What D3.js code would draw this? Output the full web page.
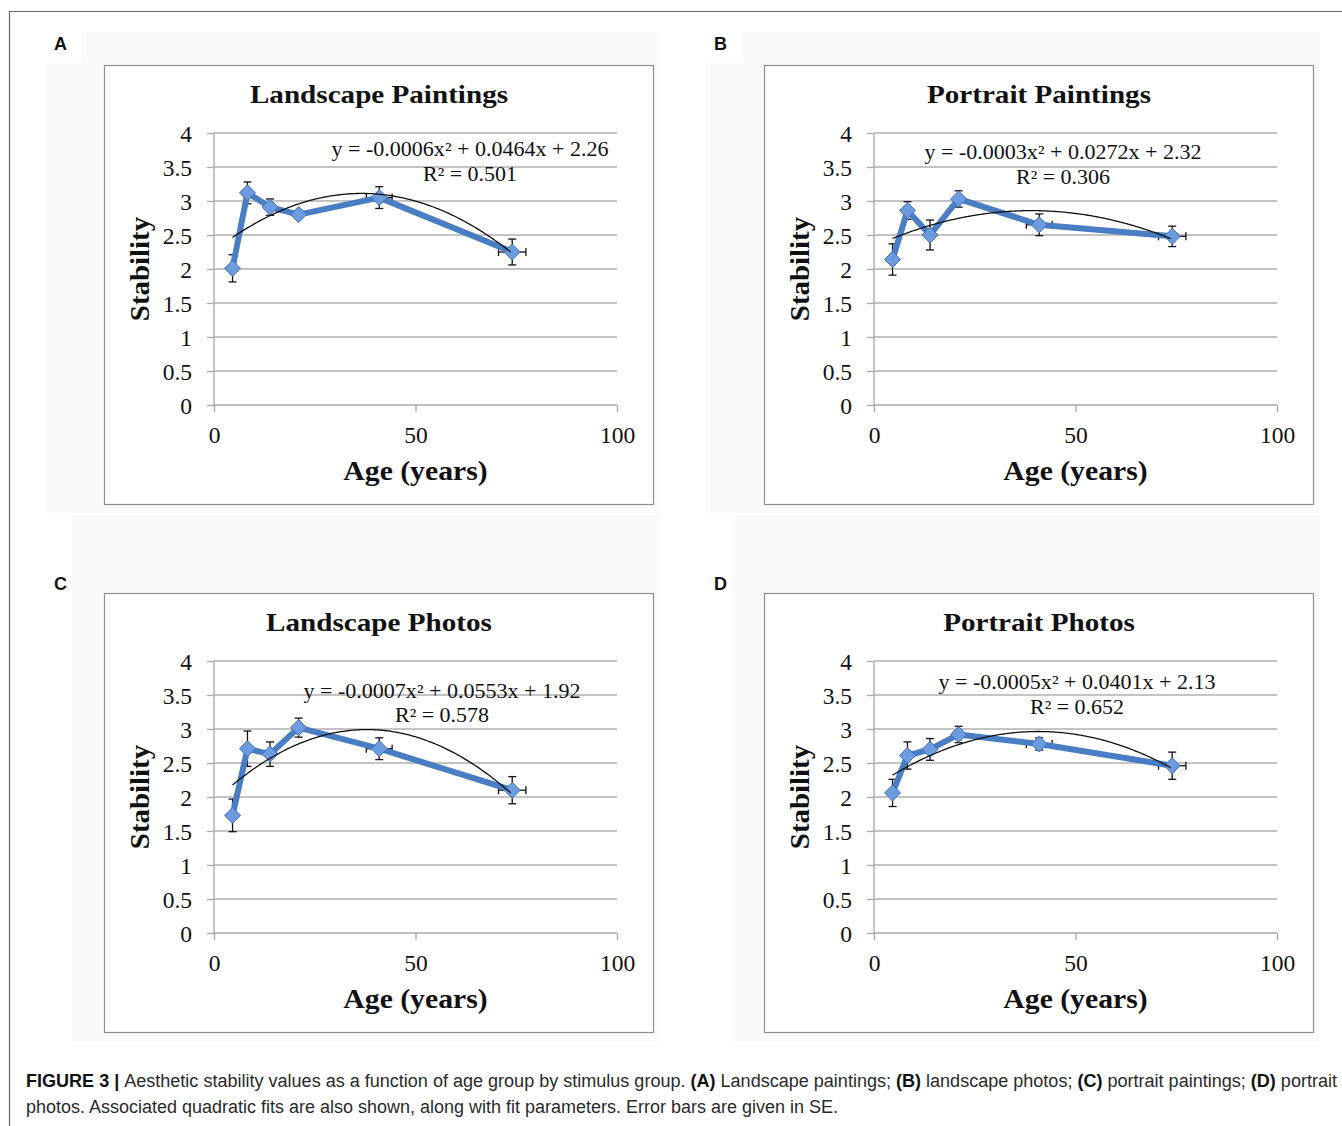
<!DOCTYPE html>
<html>
<head>
<meta charset="utf-8">
<script src="https://cdn.jsdelivr.net/npm/d3@7"></script>
<style>
  html, body { margin: 0; padding: 0; background: #ffffff; }
  svg { display: block; }
</style>
</head>
<body>
<svg id="chart" width="1342" height="1126"></svg>
<script>
// ---------------- DATA ----------------
const ageGroups = [4.6, 8.3, 13.9, 21, 41, 74];
const ageSE = [0, 0, 0, 0, 3.2, 3.4];
const xTicks = [0, 50, 100];
const yTicks = [0, 0.5, 1, 1.5, 2, 2.5, 3, 3.5, 4];
const yTickLabels = ["0", "0.5", "1", "1.5", "2", "2.5", "3", "3.5", "4"];
const xTickLabels = ["0", "50", "100"];

const panelLetters = ["A", "B", "C", "D"];
const panelTitles = ["Landscape Paintings", "Portrait Paintings", "Landscape Photos", "Portrait Photos"];

const landscapePaintings   = [2.01, 3.12, 2.91, 2.80, 3.05, 2.25];
const landscapePaintingsSE = [0.20, 0.16, 0.12, 0.05, 0.16, 0.19];
const portraitPaintings    = [2.14, 2.86, 2.50, 3.03, 2.65, 2.48];
const portraitPaintingsSE  = [0.23, 0.13, 0.22, 0.12, 0.16, 0.15];
const landscapePhotos      = [1.73, 2.71, 2.63, 3.02, 2.71, 2.10];
const landscapePhotosSE    = [0.24, 0.26, 0.18, 0.14, 0.16, 0.20];
const portraitPhotos       = [2.06, 2.61, 2.70, 2.92, 2.78, 2.46];
const portraitPhotosSE     = [0.20, 0.20, 0.16, 0.12, 0.09, 0.20];

const fitEquations = [
  "y = -0.0006x² + 0.0464x + 2.26",
  "y = -0.0003x² + 0.0272x + 2.32",
  "y = -0.0007x² + 0.0553x + 1.92",
  "y = -0.0005x² + 0.0401x + 2.13"
];
const fitR2 = ["R² = 0.501", "R² = 0.306", "R² = 0.578", "R² = 0.652"];

const yAxisTitle = "Stability";
const xAxisTitle = "Age (years)";

const captionLine1 = [
  {t: "FIGURE 3 | ", b: true},
  {t: "Aesthetic stability values as a function of age group by stimulus group. ", b: false},
  {t: "(A)", b: true}, {t: " Landscape paintings; ", b: false},
  {t: "(B)", b: true}, {t: " landscape photos; ", b: false},
  {t: "(C)", b: true}, {t: " portrait paintings; ", b: false},
  {t: "(D)", b: true}, {t: " portrait", b: false}
];
const captionLine2 = [
  {t: "photos. Associated quadratic fits are also shown, along with fit parameters. Error bars are given in SE.", b: false}
];

const seriesValues = [landscapePaintings, portraitPaintings, landscapePhotos, portraitPhotos];
const seriesSE = [landscapePaintingsSE, portraitPaintingsSE, landscapePhotosSE, portraitPhotosSE];

// ---------------- LAYOUT ----------------
const panels = [
  {ox: 0,   oy: 0},
  {ox: 660, oy: 0},
  {ox: 0,   oy: 528},
  {ox: 660, oy: 528}
];
const eqPos = [
  {x: 470, y1: 156, y2: 181},
  {x: 1063, y1: 159, y2: 184},
  {x: 442, y1: 698, y2: 722},
  {x: 1077, y1: 688.5, y2: 714}
];

const svg = d3.select("#chart");
const serif = "'Liberation Serif', 'Times New Roman', serif";
const sans = "'Liberation Sans Narrow', 'Arial Narrow', 'Liberation Sans', Arial, sans-serif";

// outer frame
svg.append("line").attr("x1", 9).attr("y1", 11.5).attr("x2", 1342).attr("y2", 11.5)
  .attr("stroke", "#666").attr("stroke-width", 1.2);
svg.append("line").attr("x1", 9.5).attr("y1", 11).attr("x2", 9.5).attr("y2", 1126)
  .attr("stroke", "#666").attr("stroke-width", 1.2);

function stretch(sel, k) {
  const w = sel.node().getComputedTextLength();
  sel.attr("textLength", w * k).attr("lengthAdjust", "spacingAndGlyphs");
}

// quadratic least squares
function quadFit(xs, ys) {
  let S = [0,0,0,0,0], T = [0,0,0];
  xs.forEach((x, i) => {
    const y = ys[i];
    for (let k = 0; k < 5; k++) S[k] += Math.pow(x, k);
    for (let k = 0; k < 3; k++) T[k] += y * Math.pow(x, k);
  });
  const M = [[S[0],S[1],S[2],T[0]],[S[1],S[2],S[3],T[1]],[S[2],S[3],S[4],T[2]]];
  for (let i = 0; i < 3; i++) {
    let p = i;
    for (let r = i+1; r < 3; r++) if (Math.abs(M[r][i]) > Math.abs(M[p][i])) p = r;
    [M[i], M[p]] = [M[p], M[i]];
    for (let r = 0; r < 3; r++) {
      if (r === i) continue;
      const f = M[r][i] / M[i][i];
      for (let c = i; c < 4; c++) M[r][c] -= f * M[i][c];
    }
  }
  const c0 = M[0][3]/M[0][0], c1 = M[1][3]/M[1][1], c2 = M[2][3]/M[2][2];
  return x => c0 + c1*x + c2*x*x;
}

panels.forEach((p, pi) => {
  const g = svg.append("g").attr("transform", `translate(${p.ox},${p.oy})`);
  const vals = seriesValues[pi], se = seriesSE[pi];

  // light grey panel background
  if (pi < 2) {
    g.append("rect").attr("x", 82).attr("y", 32).attr("width", 578).attr("height", 481).attr("fill", "#fafafa");
    g.append("rect").attr("x", 46).attr("y", 63).attr("width", 614).attr("height", 450).attr("fill", "#fafafa");
  } else {
    g.append("rect").attr("x", 72).attr("y", -13).attr("width", 588).attr("height", 527).attr("fill", "#fafafa");
  }

  // panel letter
  g.append("text").attr("x", 54).attr("y", pi < 2 ? 50 : 62)
    .attr("font-family", "'Liberation Sans', Arial, sans-serif").attr("font-weight", "bold")
    .attr("font-size", 18).attr("fill", "#111").text(panelLetters[pi]);

  // chart box
  g.append("rect").attr("x", 104.5).attr("y", 65.5)
    .attr("width", 549).attr("height", 439)
    .attr("fill", "#fff").attr("stroke", "#8f8f8f").attr("stroke-width", 1.2);

  const x = d3.scaleLinear().domain([0, 100]).range([214, 617]);
  const y = d3.scaleLinear().domain([0, 4]).range([405, 133]);

  // gridlines
  g.append("g").selectAll("line").data(yTicks.filter(v => v > 0)).join("line")
    .attr("x1", x(0)).attr("x2", x(100))
    .attr("y1", d => y(d)).attr("y2", d => y(d))
    .attr("stroke", "#b0b0b0").attr("stroke-width", 1.3);

  // y axis
  const yAx = g.append("g").attr("transform", `translate(${x(0)},0)`)
    .call(d3.axisLeft(y).tickValues(yTicks).tickFormat((d, i) => yTickLabels[i]).tickSize(7).tickPadding(15));
  yAx.select(".domain").attr("stroke", "#a8a8a8").attr("stroke-width", 1.3).attr("d", `M0,${y(0)}V${y(4)}`);
  yAx.selectAll(".tick line").attr("stroke", "#a8a8a8").attr("stroke-width", 1.3);
  yAx.selectAll(".tick text").attr("font-family", serif).attr("font-size", 23.5).attr("fill", "#111")
    .attr("dy", "0.36em");

  // x axis
  const xAx = g.append("g").attr("transform", `translate(0,${y(0)})`)
    .call(d3.axisBottom(x).tickValues(xTicks).tickFormat((d, i) => xTickLabels[i]).tickSize(7).tickPadding(14));
  xAx.select(".domain").attr("stroke", "#a8a8a8").attr("stroke-width", 1.3).attr("d", `M${x(0)},0H${x(100)}`);
  xAx.selectAll(".tick line").attr("stroke", "#a8a8a8").attr("stroke-width", 1.3);
  xAx.selectAll(".tick text").attr("font-family", serif).attr("font-size", 23.5).attr("fill", "#111");

  // titles
  const tt = g.append("text").attr("x", 379).attr("y", 103).attr("text-anchor", "middle")
    .attr("font-family", serif).attr("font-weight", "bold").attr("font-size", 26).attr("fill", "#111")
    .text(panelTitles[pi]);
  stretch(tt, 1.12);
  const yt = g.append("text").attr("transform", `translate(149,${(y(0)+y(4))/2}) rotate(-90)`).attr("text-anchor", "middle")
    .attr("font-family", serif).attr("font-weight", "bold").attr("font-size", 27).attr("fill", "#111")
    .text(yAxisTitle);
  stretch(yt, 1.07);
  const xt = g.append("text").attr("x", x(50)).attr("y", 480).attr("text-anchor", "middle")
    .attr("font-family", serif).attr("font-weight", "bold").attr("font-size", 27).attr("fill", "#111")
    .text(xAxisTitle);
  stretch(xt, 1.10);

  // error bars
  const eb = g.append("g").attr("stroke", "#111").attr("stroke-width", 1.3);
  ageGroups.forEach((a, i) => {
    const cx = x(a), v = vals[i], e = se[i];
    if (e > 0) {
      eb.append("line").attr("x1", cx).attr("x2", cx).attr("y1", y(v + e)).attr("y2", y(v - e));
      eb.append("line").attr("x1", cx - 4).attr("x2", cx + 4).attr("y1", y(v + e)).attr("y2", y(v + e));
      eb.append("line").attr("x1", cx - 4).attr("x2", cx + 4).attr("y1", y(v - e)).attr("y2", y(v - e));
    }
    const xe = ageSE[i];
    if (xe > 0) {
      const cy = y(v);
      eb.append("line").attr("x1", x(a - xe)).attr("x2", x(a + xe)).attr("y1", cy).attr("y2", cy);
      eb.append("line").attr("x1", x(a - xe)).attr("x2", x(a - xe)).attr("y1", cy - 4).attr("y2", cy + 4);
      eb.append("line").attr("x1", x(a + xe)).attr("x2", x(a + xe)).attr("y1", cy - 4).attr("y2", cy + 4);
    }
  });

  // series line
  const pts = ageGroups.map((a, i) => [a, vals[i]]);
  g.append("path").datum(pts)
    .attr("d", d3.line().x(d => x(d[0])).y(d => y(d[1])))
    .attr("fill", "none").attr("stroke", "#4a7ec4").attr("stroke-width", 6)
    .attr("stroke-linejoin", "round");

  // markers
  g.append("g").selectAll("path").data(pts).join("path")
    .attr("transform", d => `translate(${x(d[0])},${y(d[1])})`)
    .attr("d", "M0,-8L8,0L0,8L-8,0Z")
    .attr("fill", "#6d9be0").attr("stroke", "#3e70b8").attr("stroke-width", 1);

  // quadratic trendline
  const f = quadFit(ageGroups, vals);
  const xs = d3.range(ageGroups[0], ageGroups[ageGroups.length - 1] + 0.01, 0.5);
  g.append("path").datum(xs)
    .attr("d", d3.line().x(d => x(d)).y(d => y(f(d))).curve(d3.curveMonotoneX))
    .attr("fill", "none").attr("stroke", "#111").attr("stroke-width", 1.3);

  // equation labels
  const ep = eqPos[pi];
  svg.append("text").attr("x", ep.x).attr("y", ep.y1).attr("text-anchor", "middle")
    .attr("font-family", serif).attr("font-size", 20).attr("fill", "#111")
    .attr("textLength", 277).attr("lengthAdjust", "spacingAndGlyphs")
    .text(fitEquations[pi]);
  svg.append("text").attr("x", ep.x).attr("y", ep.y2).attr("text-anchor", "middle")
    .attr("font-family", serif).attr("font-size", 20).attr("fill", "#111")
    .attr("textLength", 94).attr("lengthAdjust", "spacingAndGlyphs")
    .text(fitR2[pi]);
});

// caption
function caption(parts, yPos, len) {
  const t = svg.append("text").attr("x", 26).attr("y", yPos)
    .attr("font-family", sans).attr("font-size", 18).attr("fill", "#222")
    .attr("textLength", len).attr("lengthAdjust", "spacingAndGlyphs");
  parts.forEach(p => t.append("tspan").attr("font-weight", p.b ? "bold" : "normal")
    .attr("fill", p.b ? "#111" : "#2a2a2a").text(p.t));
}
caption(captionLine1, 1087, 1311);
caption(captionLine2, 1113, 812);
</script>
</body>
</html>
